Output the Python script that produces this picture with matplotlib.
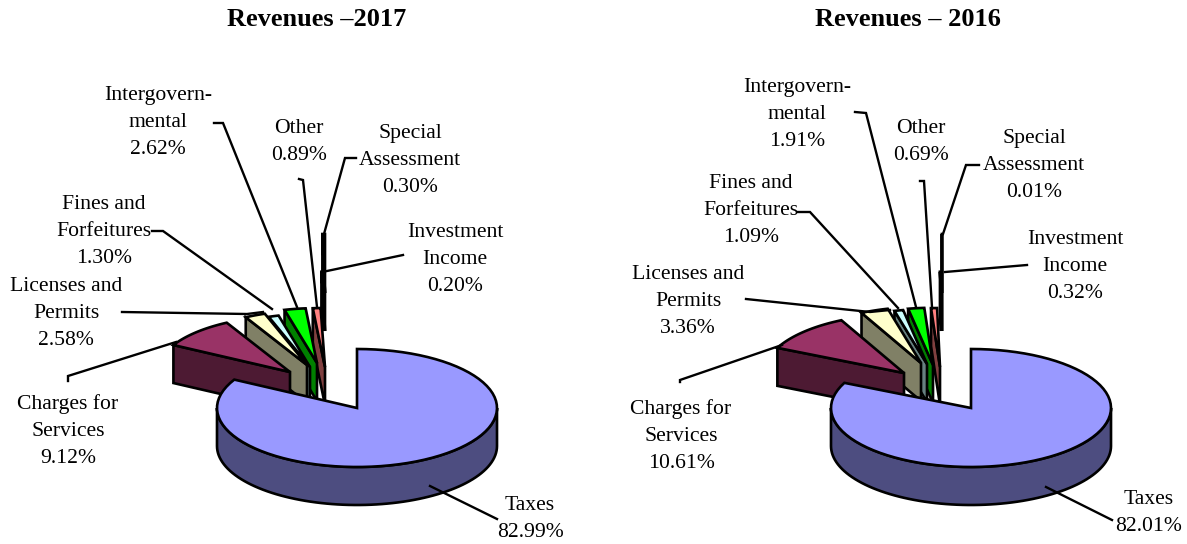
import numpy as np
import matplotlib
matplotlib.use('Agg')
import matplotlib.pyplot as plt
from matplotlib.patches import Polygon

names = ['Taxes', 'Charges for\nServices', 'Licenses and\nPermits', 'Fines and\nForfeitures',
         'Intergovern-\nmental', 'Other', 'Investment\nIncome', 'Special\nAssessment']
values_2017 = [82.99, 9.12, 2.58, 1.30, 2.62, 0.89, 0.20, 0.30]
values_2016 = [82.01, 10.61, 3.36, 1.09, 1.91, 0.69, 0.32, 0.01]

top_colors = ['#9999FF', '#993366', '#FFFFCC', '#CCFFFF', '#00FF00', '#FF8080', '#000000', '#000000']
side_colors = ['#4D4D80', '#4D1A33', '#808066', '#668080', '#008000', '#804040', '#000000', '#000000']

RX, RY, DEPTH = 140, 59, 38

# slice offsets from the pie centre (pixels) and radius scale
shift_2017 = [(0, 0), (-67, -36), (-50, -43), (-47, -41), (-40, -45), (-32, -41), (-34, -115), (-32, -115)]
scale_2017 = [1, .95, .92, .9, .93, 1, .36, 1]
shift_2016 = [(0, 0), (-67, -35), (-50, -45), (-44, -44), (-38, -43), (-31, -41), (-30, -115), (-29, -115)]
scale_2016 = [1, 1, .95, .93, .97, 1, .36, 1]

# label centres, first line
text_2017 = [(530, 504), (68, 402), (66, 285), (104, 203), (158, 94), (299, 127), (455, 231), (410, 132)]
text_2016 = [(1149, 498), (681, 407), (688, 273), (751, 182), (797, 86), (921, 127), (1075, 238), (1034, 137)]

leaders_2017 = [[(430, 486), (497, 519)],
                [(68, 381), (68, 376), (176, 342)],
                [(122, 312), (247, 314), (263, 312)],
                [(152, 231), (163, 231), (272, 309)],
                [(214, 123), (223, 123), (297, 307)],
                [(299, 179), (303, 180), (317, 307)],
                [(403, 255), (327, 271)],
                [(356, 158), (345, 158), (324, 234)]]
leaders_2016 = [[(1046, 487), (1112, 520)],
                [(680, 382), (680, 380), (782, 345)],
                [(746, 299), (870, 312), (890, 310)],
                [(798, 212), (810, 212), (898, 308)],
                [(855, 112), (866, 113), (916, 307)],
                [(920, 181), (924, 181), (932, 307)],
                [(1027, 265), (945, 272)],
                [(979, 165), (966, 165), (943, 234)]]

plt.rcParams['font.family'] = ['Liberation Serif']

fig = plt.figure(figsize=(11.87, 5.44), dpi=100)
ax = fig.add_axes([0, 0, 1, 1])
ax.set_xlim(0, 1187)
ax.set_ylim(544, 0)
ax.axis('off')


def arc(cx, cy, a0, a1, r=1.0):
    t = np.radians(np.linspace(a0, a1, 80))
    return np.column_stack([cx + RX * r * np.sin(t), cy - RY * r * np.cos(t)])


def draw_pie(cx, cy, values, shifts, scales):
    edges = np.concatenate([[0], np.cumsum(values)]) * 3.6
    edges[-1] = 360
    style = dict(ec='black', lw=1.9, joinstyle='miter')
    # back to front: last slice first, taxes on top
    for i in range(len(values) - 1, -1, -1):
        x0 = cx + shifts[i][0]
        y0 = cy + shifts[i][1]
        a0, a1 = edges[i], edges[i + 1]
        rim = arc(x0, y0, a0, a1, scales[i])
        if i == 0:
            low = arc(x0, y0 + DEPTH, 90, 270)
            high = arc(x0, y0, 270, 90)
            ax.add_patch(Polygon(np.vstack([high, low]), fc=side_colors[i], **style))
        else:
            c = rim[0]
            face = [c, (x0, y0), (x0, y0 + DEPTH), (c[0], c[1] + DEPTH)]
            ax.add_patch(Polygon(face, fc=side_colors[i], **style))
        ax.add_patch(Polygon(np.vstack([[(x0, y0)], rim]), fc=top_colors[i], **style))


def draw_labels(values, positions, leaders):
    for name, v, pos, pts in zip(names, values, positions, leaders):
        pts = np.array(pts)
        ax.plot(pts[:, 0], pts[:, 1], color='black', lw=1.7, solid_joinstyle='miter')
        ax.text(pos[0], pos[1] - 8, f'{name}\n{v:.2f}%', ha='center', va='top',
                fontsize=15.6, linespacing=1.56, color='black')


draw_pie(357, 408, values_2017, shift_2017, scale_2017)
draw_pie(971, 408, values_2016, shift_2016, scale_2016)
draw_labels(values_2017, text_2017, leaders_2017)
draw_labels(values_2016, text_2016, leaders_2016)

ax.text(317, 19, 'Revenues \u20132017', ha='center', va='center', fontsize=19, fontweight='bold')
ax.text(908, 19, 'Revenues \u2013 2016', ha='center', va='center', fontsize=19, fontweight='bold')

fig.savefig('out.png', dpi=100)
